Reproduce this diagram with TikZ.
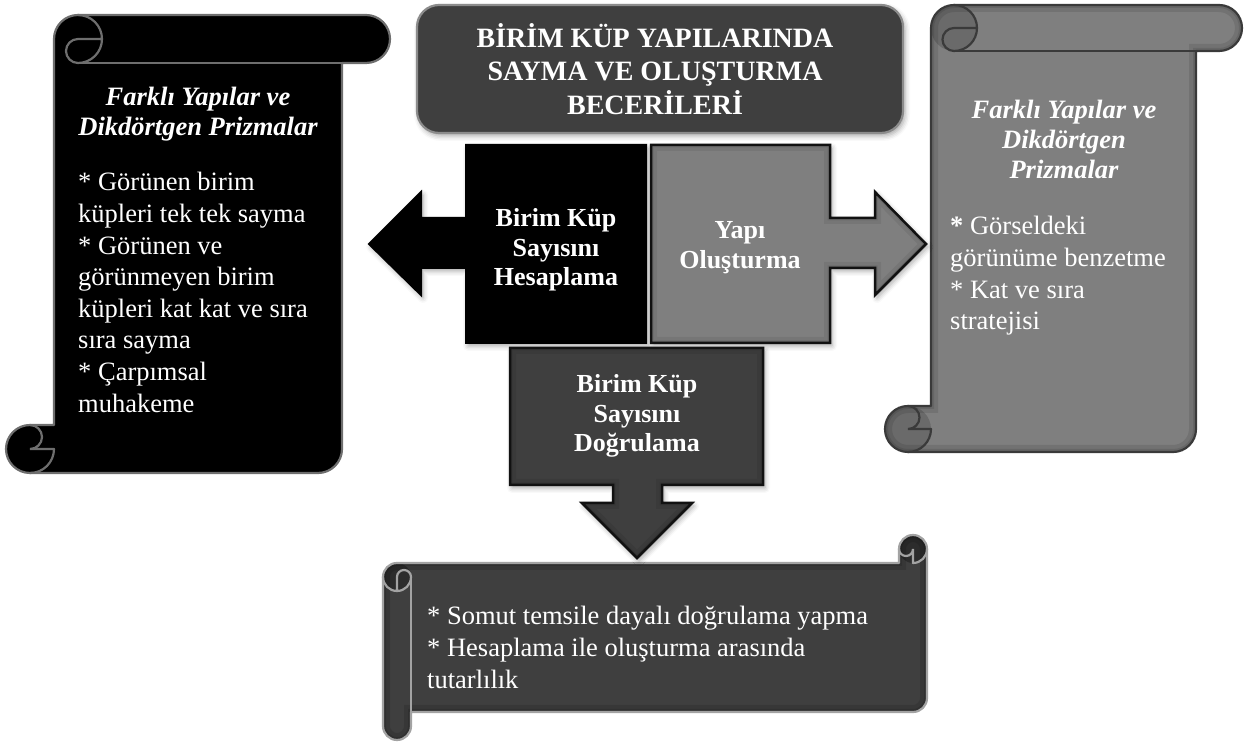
\documentclass[tikz,border=0pt]{standalone}
\usepackage{fontspec}
\setmainfont{Liberation Serif}
\usetikzlibrary{shadows.blur}

\definecolor{panelDark}{HTML}{3F3F3F}
\definecolor{panelGray}{HTML}{7F7F7F}
\definecolor{curlGray}{HTML}{6A6A6A}
\definecolor{curlDark}{HTML}{2C2C2C}
\definecolor{rimBlack}{HTML}{6E6E6E}
\definecolor{rimGray}{HTML}{3A3A3A}
\definecolor{rimLight}{HTML}{A3A3A3}
\definecolor{rimTitle}{HTML}{8C8C8C}
\definecolor{rimArrow}{HTML}{111111}

% Scroll outline in a local frame: u in [0,W], v in [0,H], roll size C
\newcommand\scrollpath{(\scHh,\scH) -- (\scW-\scC-\scHh,\scH)
  arc[start angle=90,end angle=0,radius=\scHh] -- (\scW-\scC,\scC)
  -- (\scW-\scHh,\scC) arc[start angle=90,end angle=-90,radius=\scHh]
  -- (\scC+\scHh,0) arc[start angle=-90,end angle=-180,radius=\scHh]
  -- (\scC,\scH-\scC) -- (\scHh,\scH-\scC)
  arc[start angle=-90,end angle=-270,radius=\scHh] -- cycle}

% #1 W, #2 H, #3 roll size, #4 fill, #5 rim, #6 curl fill, #7 inner shade opacity
\newcommand\drawscroll[7]{%
  \pgfmathsetmacro\scW{#1}\pgfmathsetmacro\scH{#2}\pgfmathsetmacro\scC{#3}%
  \pgfmathsetmacro\scHh{#3/2}\pgfmathsetmacro\scQ{#3/4}%
  \fill[#4] \scrollpath;
  \begin{scope}
    \clip \scrollpath;
    \fill[#6] (\scHh,\scH-\scHh) circle[radius=\scHh];
    \fill[#6] (\scC+\scHh,\scHh) circle[radius=\scHh];
    \draw[black,opacity=#7,line width=14] \scrollpath;
    \draw[black,opacity=#7,line width=6] \scrollpath;
  \end{scope}
  \draw[#5,line width=2.2,line join=round] \scrollpath;
  \draw[#5,line width=2.2,line cap=round]
    (\scHh,\scH) arc[start angle=90,end angle=0,radius=\scHh];
  \draw[#5,line width=2.2,line cap=round]
    (\scHh,\scH-\scC) arc[start angle=-90,end angle=90,radius=\scQ]
    -- (\scC,\scH-\scHh);
  \draw[#5,line width=2.2,line cap=round]
    (\scC+\scHh,0) arc[start angle=-90,end angle=90,radius=\scHh]
    arc[start angle=90,end angle=270,radius=\scQ] -- (2*\scC,\scHh);
  \draw[#5,line width=2.2] (\scC+\scHh,\scC) -- (\scW-\scC,\scC);
}

\newcommand\calcarrowpath{(646,597) -- (466,597) -- (466,524) -- (421,524)
  -- (421,550) -- (369,498) -- (421,447) -- (421,474) -- (466,474)
  -- (466,399) -- (646,399) -- cycle}
\newcommand\buildarrowpath{(651,597) -- (830,597) -- (830,524) -- (875,524)
  -- (875,550) -- (926,498) -- (875,447) -- (875,474) -- (830,474)
  -- (830,399) -- (651,399) -- cycle}
\newcommand\checkarrowpath{(510,394) -- (763,394) -- (763,257) -- (662,257)
  -- (662,239) -- (692,239) -- (637,184) -- (582,239) -- (613,239)
  -- (613,257) -- (510,257) -- cycle}
\newcommand\titlepath{[rounded corners=22] (417,609) rectangle (903,737)}

\tikzset{
  softshadow/.style={blur shadow={shadow xshift=2pt,shadow yshift=-3pt,
      shadow blur radius=5pt,shadow opacity=35}},
  bodytext/.style={text=white,inner sep=0pt,
      font=\fontsize{26.5}{31.6}\selectfont},
  headtext/.style={text=white,inner sep=0pt,
      font=\fontsize{26.5}{30}\selectfont\bfseries\itshape},
  boldtext/.style={text=white,inner sep=0pt,
      font=\fontsize{26}{29.5}\selectfont\bfseries},
  titletext/.style={text=white,inner sep=0pt,
      font=\fontsize{28}{32.5}\selectfont\bfseries},
}

\begin{document}
\begin{tikzpicture}[x=1pt,y=1pt]
\useasboundingbox (0,0) rectangle (1251,742);

% left scroll
\begin{scope}[cm={1,0,0,-1,(6,727)}]
  \drawscroll{384}{458}{48}{black}{rimBlack}{black}{0}
\end{scope}

% right scroll
\begin{scope}[cm={1,0,0,-1,(885,737)}]
  \drawscroll{357}{447}{46}{panelGray}{rimGray}{curlGray}{0.10}
\end{scope}

% bottom scroll (horizontal)
\begin{scope}[cm={0,-1,1,0,(383,207)}]
  \drawscroll{205}{544}{28}{panelDark}{rimLight}{curlDark}{0.12}
\end{scope}

% title box
\fill[panelDark,softshadow] \titlepath;
\draw[rimTitle,line width=2.2] \titlepath;

% central arrows
\fill[black,softshadow] \calcarrowpath;
\draw[black,line width=2,line join=miter] \calcarrowpath;

\fill[panelGray,softshadow] \buildarrowpath;
\begin{scope}
  \clip \buildarrowpath;
  \draw[black,opacity=.07,line width=12] \buildarrowpath;
  \draw[black,opacity=.08,line width=5] \buildarrowpath;
\end{scope}
\draw[rimArrow,line width=2.5] \buildarrowpath;

\fill[panelDark,softshadow] \checkarrowpath;
\begin{scope}
  \clip \checkarrowpath;
  \draw[black,opacity=.08,line width=12] \checkarrowpath;
  \draw[black,opacity=.08,line width=5] \checkarrowpath;
\end{scope}
\draw[rimArrow,line width=2.5] \checkarrowpath;

% texts
\node[titletext,anchor=base] (title) at (655,694)
  {\begin{tabular}[t]{@{}c@{}}BİRİM KÜP YAPILARINDA\\SAYMA VE OLUŞTURMA\\BECERİLERİ\end{tabular}};

\node[headtext,anchor=base] (lhead) at (198,636)
  {\begin{tabular}[t]{@{}c@{}}Farklı Yapılar ve\\Dikdörtgen Prizmalar\end{tabular}};
\node[bodytext,anchor=base west] (lbody) at (78,551)
  {\begin{tabular}[t]{@{}l@{}}* Görünen birim\\küpleri tek tek sayma\\{}* Görünen ve\\görünmeyen birim\\küpleri kat kat ve sıra\\sıra sayma\\{}* Çarpımsal\\muhakeme\end{tabular}};

\node[headtext,anchor=base] (rhead) at (1064,623)
  {\begin{tabular}[t]{@{}c@{}}Farklı Yapılar ve\\Dikdörtgen\\Prizmalar\end{tabular}};
\node[bodytext,anchor=base west] (rbody) at (950,507)
  {\begin{tabular}[t]{@{}l@{}}\textbf{*} Görseldeki\\görünüme benzetme\\{}* Kat ve sıra\\stratejisi\end{tabular}};

\node[boldtext,anchor=base] (calc) at (556,515)
  {\begin{tabular}[t]{@{}c@{}}Birim Küp\\Sayısını\\Hesaplama\end{tabular}};
\node[boldtext,anchor=base] (build) at (740,503)
  {\begin{tabular}[t]{@{}c@{}}Yapı\\Oluşturma\end{tabular}};
\node[boldtext,anchor=base] (check) at (637,349)
  {\begin{tabular}[t]{@{}c@{}}Birim Küp\\Sayısını\\Doğrulama\end{tabular}};

\node[bodytext,anchor=base west] (bbody) at (427,117)
  {\begin{tabular}[t]{@{}l@{}}* Somut temsile dayalı doğrulama yapma\\{}* Hesaplama ile oluşturma arasında\\tutarlılık\end{tabular}};
\end{tikzpicture}
\end{document}
